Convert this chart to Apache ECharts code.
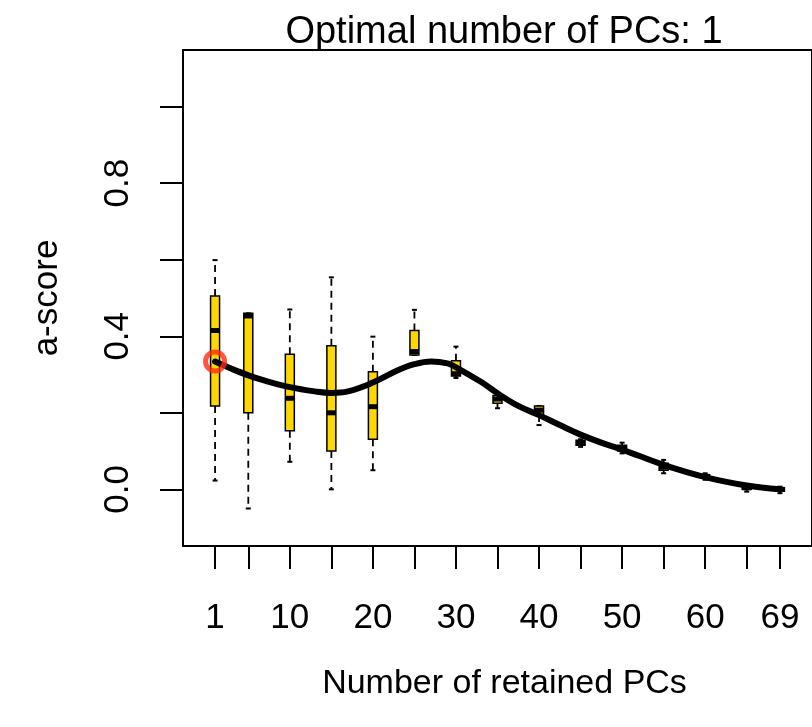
<!DOCTYPE html>
<html>
<head>
<meta charset="utf-8">
<script src="https://cdn.jsdelivr.net/npm/echarts@6/dist/echarts.min.js"></script>
<style>
html,body{margin:0;padding:0;background:#fff;}
#chart{width:812px;height:727px;}
</style>
</head>
<body>
<div id="chart"></div>
<script>
// ---- data ----
var titleText = 'Optimal number of PCs: 1';
var xName = 'Number of retained PCs';
var yName = 'a-score';

var positions   = [1, 5, 10, 15, 20, 25, 30, 35, 40, 45, 50, 55, 60, 65, 69];
var whiskerLow  = [0.023, -0.050, 0.072, 0.000, 0.050, 0.351, 0.291, 0.212, 0.168, 0.111, 0.094, 0.042, 0.025, -0.006, -0.010];
var q1          = [0.218, 0.200, 0.153, 0.100, 0.131, 0.351, 0.296, 0.225, 0.194, 0.115, 0.100, 0.050, 0.030, 0.000, -0.005];
var medians     = [0.415, 0.453, 0.238, 0.200, 0.216, 0.360, 0.302, 0.236, 0.207, 0.120, 0.108, 0.058, 0.034, 0.004, 0.000];
var q3          = [0.505, 0.460, 0.353, 0.375, 0.307, 0.415, 0.336, 0.245, 0.218, 0.128, 0.115, 0.068, 0.038, 0.007, 0.004];
var whiskerHigh = [0.599, 0.460, 0.470, 0.554, 0.399, 0.469, 0.373, 0.252, 0.218, 0.131, 0.122, 0.077, 0.042, 0.009, 0.007];

var curveX = [1, 3, 5, 7, 10, 13, 15, 17, 20, 23, 25, 27, 29, 30, 33, 35, 37.5, 40, 42.5, 45, 48, 50, 55, 60, 65, 69];
var curveY = [0.334, 0.315, 0.298, 0.284, 0.267, 0.256, 0.252, 0.256, 0.279, 0.311, 0.327, 0.334, 0.329, 0.319, 0.281, 0.251, 0.218, 0.194, 0.168, 0.143, 0.118, 0.104, 0.064, 0.032, 0.010, 0.000];

var optimalX = [1];
var optimalY = [0.334];

var xTickValues  = [1, 5, 10, 15, 20, 25, 30, 35, 40, 45, 50, 55, 60, 65, 69];
var xLabelValues = [1, 10, 20, 30, 40, 50, 60, 69];
var yTickValues  = [0, 0.2, 0.4, 0.6, 0.8, 1.0];
var yLabelValues = [0, 0.4, 0.8];

// ---- build ----
var boxData = positions.map(function (p, i) {
  return [p, whiskerLow[i], q1[i], medians[i], q3[i], whiskerHigh[i]];
});
var curveData = curveX.map(function (x, i) { return [x, curveY[i]]; });
var optData = optimalX.map(function (x, i) { return [x, optimalY[i]]; });

var FONT = '"Liberation Sans", Arial, Helvetica, sans-serif';

function renderBox(params, api) {
  var x = api.value(0);
  var lo = api.coord([x, api.value(1)]);
  var b1 = api.coord([x, api.value(2)]);
  var md = api.coord([x, api.value(3)]);
  var b3 = api.coord([x, api.value(4)]);
  var hi = api.coord([x, api.value(5)]);
  var cx = lo[0];
  var hw = 4.5;  // half box width (px)
  var cw = 2.5;  // half staple width (px)
  var dash = { stroke: '#000', lineWidth: 1.8, lineDash: [7, 5] };
  var solid = { stroke: '#000', lineWidth: 2 };
  var children = [];
  if (Math.abs(b1[1] - lo[1]) > 0.5) {
    children.push({ type: 'line', shape: { x1: cx, y1: b1[1], x2: cx, y2: lo[1] }, style: dash });
  }
  if (Math.abs(hi[1] - b3[1]) > 0.5) {
    children.push({ type: 'line', shape: { x1: cx, y1: b3[1], x2: cx, y2: hi[1] }, style: dash });
  }
  children.push({ type: 'line', shape: { x1: cx - cw, y1: lo[1], x2: cx + cw, y2: lo[1] }, style: solid });
  children.push({ type: 'line', shape: { x1: cx - cw, y1: hi[1], x2: cx + cw, y2: hi[1] }, style: solid });
  children.push({ type: 'rect', shape: { x: cx - hw, y: b3[1], width: hw * 2, height: Math.max(b1[1] - b3[1], 1) },
    style: { fill: '#FFD700', stroke: '#000', lineWidth: 1.5 } });
  children.push({ type: 'line', shape: { x1: cx - hw, y1: md[1], x2: cx + hw, y2: md[1] },
    style: { stroke: '#000', lineWidth: 5 } });
  return { type: 'group', children: children };
}

var chart = echarts.init(document.getElementById('chart'), null, { renderer: 'canvas' });
chart.setOption({
  backgroundColor: '#fff',
  animation: false,
  title: {
    text: titleText,
    left: 499,
    top: 9,
    textAlign: 'center',
    textStyle: { fontFamily: FONT, fontSize: 38, fontWeight: 'normal', color: '#000' }
  },
  grid: {
    left: 183, top: 50, width: 634, height: 496,
    show: true, borderColor: '#000', borderWidth: 2, backgroundColor: 'transparent'
  },
  xAxis: {
    type: 'value',
    min: -2.86, max: 72.86,
    name: xName,
    nameLocation: 'middle',
    nameGap: 121,
    nameTextStyle: { fontFamily: FONT, fontSize: 34, color: '#000', padding: [0, 0, 0, 14] },
    axisLine: { show: true, onZero: false, lineStyle: { color: '#000', width: 2 } },
    axisTick: { show: true, inside: false, length: 23, customValues: xTickValues, lineStyle: { color: '#000', width: 2 } },
    axisLabel: { show: true, margin: 55, customValues: xLabelValues, fontFamily: FONT, fontSize: 35, color: '#000',
      formatter: function (v) { return String(Math.round(v)); } },
    splitLine: { show: false }
  },
  yAxis: {
    type: 'value',
    min: -0.148, max: 1.148,
    name: yName,
    nameLocation: 'middle',
    nameGap: 118,
    nameTextStyle: { fontFamily: FONT, fontSize: 35, color: '#000' },
    axisLine: { show: true, onZero: false, lineStyle: { color: '#000', width: 2 } },
    axisTick: { show: true, inside: false, length: 23, customValues: yTickValues, lineStyle: { color: '#000', width: 2 } },
    axisLabel: { show: true, rotate: 90, margin: 47, customValues: yLabelValues, fontFamily: FONT, fontSize: 35, color: '#000',
      formatter: function (v) { return v.toFixed(1); } },
    splitLine: { show: false }
  },
  series: [
    {
      type: 'custom',
      z: 2,
      renderItem: renderBox,
      encode: { x: 0, y: [1, 2, 3, 4, 5] },
      data: boxData,
      clip: false
    },
    {
      type: 'line',
      z: 3,
      data: curveData,
      smooth: 0.4,
      showSymbol: false,
      symbol: 'none',
      lineStyle: { color: '#000', width: 6, cap: 'round' }
    },
    {
      type: 'scatter',
      z: 4,
      data: optData,
      symbol: 'circle',
      symbolSize: 19,
      itemStyle: { color: 'rgba(0,0,0,0)', borderColor: '#FF2A12', borderWidth: 5 }
    }
  ]
});
</script>
</body>
</html>
